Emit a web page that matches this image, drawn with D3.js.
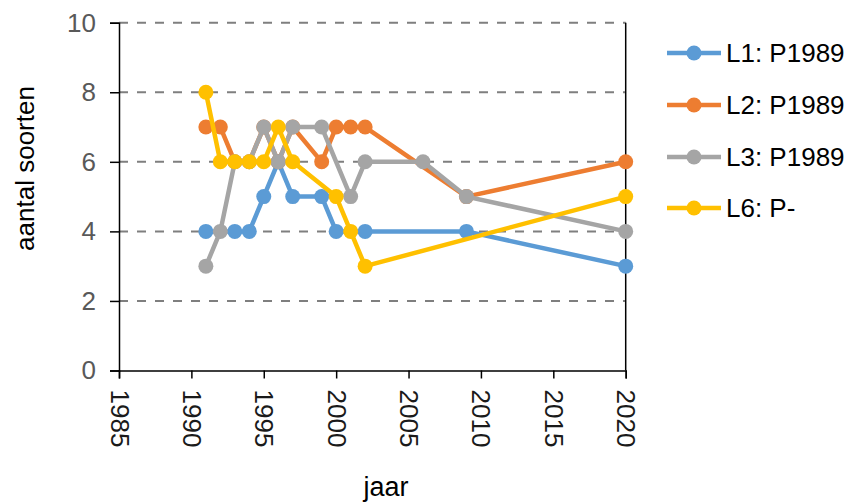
<!DOCTYPE html>
<html>
<head>
<meta charset="utf-8">
<script src="https://cdn.jsdelivr.net/npm/d3@7/dist/d3.min.js"></script>
<style>
  html, body { margin: 0; padding: 0; background: #fff; }
  svg { display: block; font-family: "Liberation Sans", Arial, sans-serif; }
</style>
</head>
<body>
<svg id="chart" width="848" height="503"></svg>
<script>
// Species counts per monitoring plot over the years
const seriesNames = ["L1: P1989", "L2: P1989", "L3: P1989", "L6: P-"];
const seriesColors = ["#5B9BD5", "#ED7D31", "#A5A5A5", "#FFC000"];

const l1Years  = [1991, 1993, 1994, 1995, 1996, 1997, 1999, 2000, 2002, 2009, 2020];
const l1Values = [4, 4, 4, 5, 6, 5, 5, 4, 4, 4, 3];

const l2Years  = [1991, 1992, 1993, 1994, 1995, 1996, 1997, 1999, 2000, 2001, 2002, 2009, 2020];
const l2Values = [7, 7, 6, 6, 7, 6, 7, 6, 7, 7, 7, 5, 6];

const l3Years  = [1991, 1992, 1993, 1994, 1995, 1996, 1997, 1999, 2001, 2002, 2006, 2009, 2020];
const l3Values = [3, 4, 6, 6, 7, 6, 7, 7, 5, 6, 6, 5, 4];

const l6Years  = [1991, 1992, 1993, 1994, 1995, 1996, 1997, 2000, 2001, 2002, 2020];
const l6Values = [8, 6, 6, 6, 6, 7, 6, 5, 4, 3, 5];

const xTicks = [1985, 1990, 1995, 2000, 2005, 2010, 2015, 2020];
const yTicks = [0, 2, 4, 6, 8, 10];

const allYears = [l1Years, l2Years, l3Years, l6Years];
const allValues = [l1Values, l2Values, l3Values, l6Values];
const series = seriesNames.map((name, i) => ({
  name,
  color: seriesColors[i],
  points: allYears[i].map((yr, j) => ({ year: yr, value: allValues[i][j] }))
}));

const svg = d3.select("#chart");
const plotLeft = 119, plotRight = 625.7, plotTop = 22.7, plotBottom = 370.5;

const x = d3.scaleLinear().domain([1985, 2020]).range([plotLeft, plotRight]);
const y = d3.scaleLinear().domain([0, 10]).range([plotBottom, plotTop]);

const textColor = "#595959";
const fontSize = 26;

// dashed horizontal gridlines
svg.append("g")
  .selectAll("line")
  .data(yTicks.filter(d => d > 0))
  .join("line")
  .attr("x1", plotLeft).attr("x2", plotRight)
  .attr("y1", d => y(d)).attr("y2", d => y(d))
  .attr("stroke", "#7f7f7f")
  .attr("stroke-width", 2)
  .attr("stroke-dasharray", "9,9");

// right border of the plot
svg.append("line")
  .attr("x1", plotRight).attr("x2", plotRight)
  .attr("y1", plotTop).attr("y2", plotBottom)
  .attr("stroke", "#000").attr("stroke-width", 1.5);

// y axis
const yAxis = svg.append("g")
  .attr("transform", `translate(${plotLeft},0)`)
  .call(d3.axisLeft(y).tickValues(yTicks).tickSize(9).tickPadding(14).tickFormat(d3.format("d")));
yAxis.select(".domain").attr("stroke", "#000").attr("stroke-width", 1.5);
yAxis.selectAll(".tick line").attr("stroke", "#000").attr("stroke-width", 1.5);
yAxis.selectAll(".tick text")
  .attr("fill", textColor)
  .style("font-size", fontSize + "px")
  .style("font-family", "Liberation Sans, Arial, sans-serif");

// x axis
const xAxis = svg.append("g")
  .attr("transform", `translate(0,${plotBottom})`)
  .call(d3.axisBottom(x).tickValues(xTicks).tickSize(8).tickFormat(d3.format("d")));
xAxis.select(".domain").attr("stroke", "#000").attr("stroke-width", 1.5);
xAxis.selectAll(".tick line").attr("stroke", "#000").attr("stroke-width", 1.5);
xAxis.selectAll(".tick text")
  .attr("fill", "#1a1a1a")
  .style("font-size", fontSize + "px")
  .style("font-family", "Liberation Sans, Arial, sans-serif")
  .attr("text-anchor", "start")
  .attr("dy", null)
  .attr("y", 0)
  .attr("transform", "translate(0,19) rotate(90)")
  .attr("dominant-baseline", "central");

// axis titles
svg.append("text")
  .attr("transform", `translate(34,${(87 + 250) / 2}) rotate(-90)`)
  .attr("text-anchor", "middle")
  .attr("fill", "#000")
  .style("font-size", fontSize + "px")
  .text("aantal soorten");

svg.append("text")
  .attr("x", 386).attr("y", 496)
  .attr("text-anchor", "middle")
  .attr("fill", "#000")
  .style("font-size", "27px")
  .text("jaar");

// lines and markers
const line = d3.line().x(d => x(d.year)).y(d => y(d.value));
const g = svg.append("g");
series.forEach(s => {
  const sg = g.append("g");
  sg.append("path")
    .attr("d", line(s.points))
    .attr("fill", "none")
    .attr("stroke", s.color)
    .attr("stroke-width", 4.5)
    .attr("stroke-linejoin", "round");
  sg.selectAll("circle")
    .data(s.points)
    .join("circle")
    .attr("cx", d => x(d.year))
    .attr("cy", d => y(d.value))
    .attr("r", 7.5)
    .attr("fill", s.color);
});

// legend
const legend = svg.append("g");
const legendY = [53, 105, 157, 208];
series.forEach((s, i) => {
  const lg = legend.append("g").attr("transform", `translate(0,${legendY[i]})`);
  lg.append("line")
    .attr("x1", 667).attr("x2", 721)
    .attr("stroke", s.color).attr("stroke-width", 4.5);
  lg.append("circle").attr("cx", 694).attr("r", 7.5).attr("fill", s.color);
  lg.append("text")
    .attr("x", 726).attr("y", 0)
    .attr("dy", "0.36em")
    .attr("fill", "#000")
    .style("font-size", fontSize + "px")
    .text(s.name);
});
</script>
</body>
</html>
